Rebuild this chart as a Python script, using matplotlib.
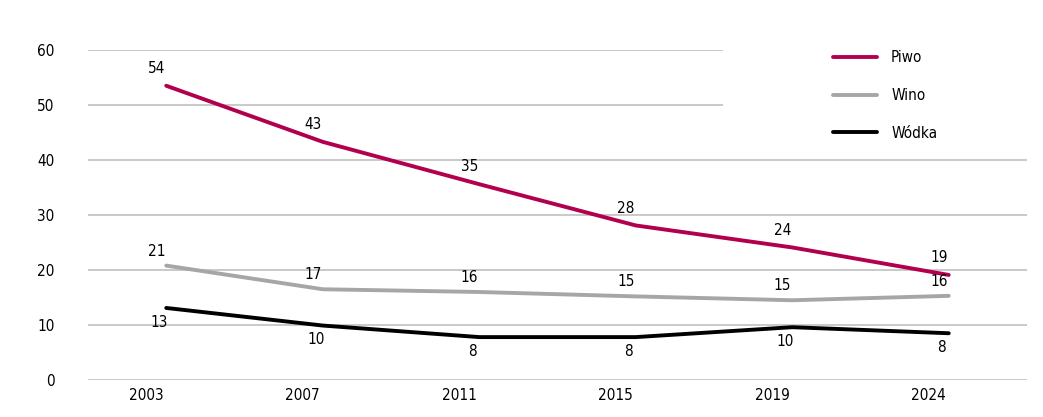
import numpy as np
import matplotlib
matplotlib.use("Agg")
import matplotlib.pyplot as plt
import matplotlib.transforms as mtransforms
from matplotlib.patches import Rectangle

plt.rcParams['font.family'] = ['DejaVu Sans']
plt.rcParams['font.stretch'] = 'condensed'

#%% Data
years = ['2003', '2007', '2011', '2015', '2019', '2024']
piwo = [53.5, 43.3, 35.6, 28.1, 24.1, 19.1]
wino = [20.8, 16.5, 16.0, 15.2, 14.5, 15.3]
wodka = [13.1, 9.9, 7.8, 7.8, 9.6, 8.5]
piwo_lbl = ['54', '43', '35', '28', '24', '19']
wino_lbl = ['21', '17', '16', '15', '15', '16']
wodka_lbl = ['13', '10', '8', '8', '10', '8']
yticks = [0, 10, 20, 30, 40, 50, 60]

c_piwo = '#B2004F'
c_wino = '#A6A6A6'
c_wodka = '#000000'

#%% Figure
fig = plt.figure(figsize=(10.43, 4.17), dpi=100)
W, H = 1043, 417
ax = fig.add_axes([88 / W, 37 / H, 939 / W, 330 / H])

x = np.arange(len(years))
ax.plot(x, piwo, color=c_piwo, lw=2.8, label='Piwo', zorder=3, solid_capstyle='round')
ax.plot(x, wino, color=c_wino, lw=2.8, label='Wino', zorder=3, solid_capstyle='round')
ax.plot(x, wodka, color=c_wodka, lw=2.8, label='Wódka', zorder=3, solid_capstyle='round')

# value labels
for i in x:
    ax.annotate(piwo_lbl[i], (x[i], piwo[i]), xytext=(-7, 7), textcoords='offset points',
                ha='center', va='bottom', fontsize=11, zorder=4)
    ax.annotate(wino_lbl[i], (x[i], wino[i]), xytext=(-7, 5), textcoords='offset points',
                ha='center', va='bottom', fontsize=11, zorder=4)
    ax.annotate(wodka_lbl[i], (x[i], wodka[i]), xytext=(-5, -5), textcoords='offset points',
                ha='center', va='top', fontsize=11, zorder=4)

ax.set_xlim(-0.5, len(years) - 0.5)
ax.set_ylim(0, 60)
ax.set_xticks(x)
ax.set_xticklabels(years, fontsize=11)
ax.set_yticks(yticks)
ax.set_yticklabels([str(t) for t in yticks], fontsize=11)
ax.tick_params(axis='both', length=0)
ax.tick_params(axis='y', pad=24)
ax.tick_params(axis='x', pad=6)

# shift the year labels a bit to the left, as in the original
shift = mtransforms.ScaledTranslation(-20 / 100, 0, fig.dpi_scale_trans)
for lab in ax.get_xticklabels():
    lab.set_transform(lab.get_transform() + shift)

for s in ax.spines.values():
    s.set_visible(False)
ax.set_axisbelow(True)
ax.yaxis.grid(True, color='#C0C0C0', lw=1.2)
ax.xaxis.grid(False)

# white box behind the legend hides the top gridlines
ax.add_patch(Rectangle(((723 - 88) / 939, 45 / 60), 1, 0.5, transform=ax.transAxes,
                       facecolor='white', edgecolor='none', zorder=1, clip_on=False))

ax.legend(loc='upper left', bbox_to_anchor=(833 / W, 1 - 50 / H), bbox_transform=fig.transFigure,
          frameon=False, fontsize=11, handlelength=2.9, handletextpad=0.9,
          labelspacing=1.5, borderpad=0, borderaxespad=0)

fig.savefig('out.png', dpi=100)
